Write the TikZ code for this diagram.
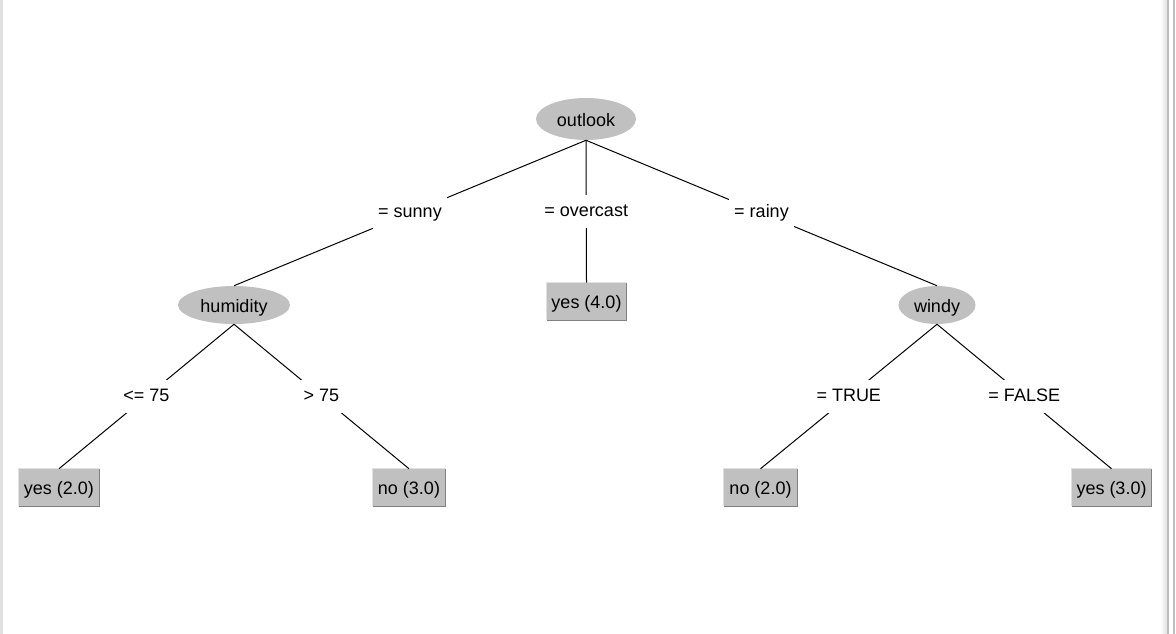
\documentclass[tikz,border=0pt]{standalone}
\usepackage{fontspec}
\setmainfont{Liberation Sans}
\usetikzlibrary{shapes.geometric}
\definecolor{nodegray}{RGB}{192,192,192}
\definecolor{darkrim}{RGB}{128,128,128}
\definecolor{lightrim}{RGB}{224,224,224}
\definecolor{framegray}{RGB}{190,190,190}
\begin{document}
\begin{tikzpicture}[x=0.75pt,y=-0.75pt,
  every node/.style={font=\fontsize{13.5}{16}\selectfont, text=black},
  inner/.style={ellipse, fill=nodegray, draw=none, inner sep=0pt, minimum height=28.5pt, text height=12pt, text depth=1pt},
  leaf/.style={rectangle, fill=nodegray, draw=none, minimum height=27.75pt, inner sep=0pt, text height=12pt, text depth=1pt},
  lbl/.style={fill=white, draw=none, minimum height=24.75pt, inner xsep=3.75pt, inner ysep=0pt, text height=10.5pt, text depth=3pt},
  edge/.style={draw=black, line width=0.75pt}]
\path[use as bounding box] (0,0) rectangle (1176,634);
\fill[white] (0,0) rectangle (1176,634);
% window frame
\fill[lightrim] (0,0) rectangle (3,634);
\shade[left color=white, right color=lightrim] (1160,0) rectangle (1167,634);
\fill[framegray] (1167,0) rectangle (1169,634);
\fill[framegray] (1173,0) rectangle (1175,634);

% inner nodes
\node[inner, minimum width=75pt, minimum height=31.5pt] (outlook) at (586,119) {outlook};
\node[inner, minimum width=84pt] (humidity) at (234,305) {humidity};
\node[inner, minimum width=57.75pt] (windy) at (937,305) {windy};

% leaves
\node[leaf, minimum width=59.25pt] (yes4) at (586.5,301.5) {yes (4.0)};
\node[leaf, minimum width=60pt] (yes2) at (59,487.5) {yes (2.0)};
\node[leaf, minimum width=54pt] (no3) at (409,487.5) {no (3.0)};
\node[leaf, minimum width=54.75pt] (no2) at (760.5,487.5) {no (2.0)};
\node[leaf, minimum width=59.25pt] (yes3) at (1111.5,487.5) {yes (3.0)};

% 3D rims of leaves
\foreach \n in {yes4,yes2,no3,no2,yes3}{
  \draw[lightrim, line width=0.75pt] (\n.south west) -- (\n.north west) -- (\n.north east);
  \draw[darkrim, line width=0.75pt] (\n.north east) -- (\n.south east) -- (\n.south west);
}

% edges with labels
\draw[edge] (outlook.south) -- (humidity.north) node[lbl, midway] (lsunny) {= sunny};
\draw[edge] (outlook.south) -- (yes4.north) node[lbl, midway] (lovercast) {= overcast};
\draw[edge] (outlook.south) -- (windy.north) node[lbl, midway] (lrainy) {= rainy};
\draw[edge] (humidity.south) -- (yes2.north) node[lbl, midway] (lle) {<= 75};
\draw[edge] (humidity.south) -- (no3.north) node[lbl, midway] (lgt) {> 75};
\draw[edge] (windy.south) -- (no2.north) node[lbl, midway] (ltrue) {= TRUE};
\draw[edge] (windy.south) -- (yes3.north) node[lbl, midway] (lfalse) {= FALSE};
\end{tikzpicture}
\end{document}
